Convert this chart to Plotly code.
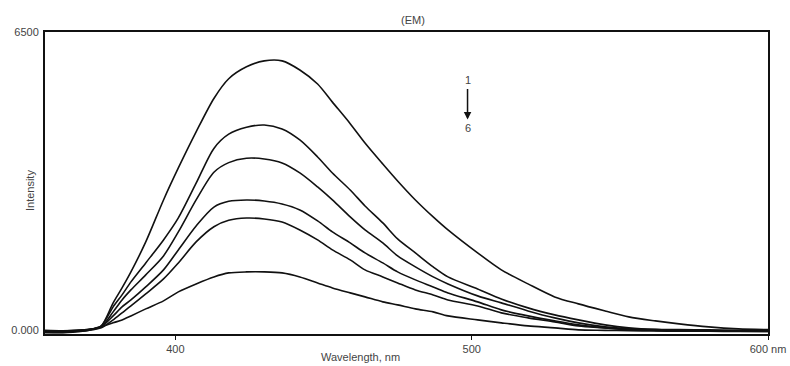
import plotly.graph_objects as go

# Wavelength grid (nm)
wavelength = [356, 362, 368, 372, 375, 379, 382, 385, 390, 396, 401, 407, 413, 418, 424,
              430, 436, 442, 448, 453, 459, 464, 470, 475, 481, 487, 492, 502, 510, 519,
              528, 536, 545, 553, 562, 570, 580, 590, 600]

# Emission intensities for spectra 1..6
curve1 = [-20, -25, -5, 25, 87, 589, 916, 1265, 1919, 2835, 3533, 4320, 5050, 5480, 5740,
          5870, 5870, 5671, 5365, 4970, 4500, 4078, 3620, 3250, 2835, 2465, 2181, 1679, 1309, 1003,
          720, 567, 414, 284, 196, 131, 65, 22, 5]
curve2 = [-40, -45, -20, 15, 87, 502, 763, 1047, 1461, 1963, 2443, 3200, 3960, 4270, 4420,
          4471, 4384, 4144, 3773, 3424, 3053, 2704, 2334, 1985, 1679, 1374, 1156, 894, 676, 480,
          327, 218, 109, 44, 10, 5, 0, -10, -20]
curve3 = [-60, -60, -35, 10, 65, 393, 654, 872, 1200, 1614, 2137, 2835, 3440, 3650, 3745,
          3729, 3642, 3424, 3119, 2835, 2465, 2181, 1897, 1614, 1374, 1156, 1003, 742, 589, 414,
          262, 153, 65, 22, 5, -10, -20, -25, -30]
curve4 = [-30, -35, -15, 18, 65, 305, 502, 654, 938, 1309, 1745, 2268, 2680, 2805, 2835,
          2813, 2748, 2617, 2377, 2137, 1897, 1679, 1461, 1265, 1091, 938, 807, 611, 436, 305,
          196, 109, 44, 5, -10, -15, -20, -25, -30]
curve5 = [-50, -55, -30, 5, 44, 218, 371, 523, 785, 1112, 1461, 1919, 2250, 2390, 2440,
          2421, 2355, 2181, 1963, 1745, 1527, 1309, 1156, 1025, 872, 763, 654, 523, 371, 262,
          174, 87, 44, 5, -10, -20, -25, -30, -35]
curve6 = [-10, -20, -5, 20, 65, 153, 218, 305, 458, 632, 829, 1003, 1156, 1243, 1265,
          1265, 1243, 1156, 1025, 916, 807, 720, 611, 545, 458, 393, 305, 218, 153, 87,
          44, 0, -10, -20, -25, -30, -30, -35, -35]

series = [curve1, curve2, curve3, curve4, curve5, curve6]

x_tickvals = [400, 500, 600]
x_ticktext = ["400", "500", "600 nm"]
y_tickvals = [0, 6500]
y_ticktext = ["0.000", "6500"]

fig = go.Figure()
for s in series:
    fig.add_trace(go.Scatter(x=wavelength, y=s, mode="lines",
                             line=dict(color="#111111", width=1.6, shape="spline", smoothing=0.8),
                             showlegend=False, hoverinfo="skip"))

font = dict(family="Liberation Sans, Arial, sans-serif", size=11, color="#444444")

fig.update_layout(
    width=790, height=366,
    margin=dict(l=45, r=22, t=32, b=32, pad=0),
    paper_bgcolor="white", plot_bgcolor="white",
    font=font,
    xaxis=dict(range=[356, 600], tickvals=x_tickvals, ticktext=x_ticktext,
               showgrid=False, zeroline=False, showline=True, mirror=True,
               linecolor="#111111", linewidth=2, ticks="outside", ticklen=4,
               tickcolor="#111111", tickfont=font, automargin=False),
    yaxis=dict(range=[-90, 6500], tickvals=y_tickvals, ticktext=y_ticktext,
               showgrid=False, zeroline=False, showline=True, mirror=True,
               linecolor="#111111", linewidth=2, ticks="", tickfont=font,
               ticklabelstandoff=2, automargin=False),
    annotations=[
        dict(text="(EM)", x=0.509, y=1.040, xref="paper", yref="paper",
             showarrow=False, font=font, xanchor="center", yanchor="middle"),
        dict(text="Intensity", x=-0.0207, y=0.4735, xref="paper", yref="paper",
             showarrow=False, font=font, textangle=-90, xanchor="center", yanchor="middle"),
        dict(text="Wavelength, nm", x=0.4357, y=-0.076, xref="paper", yref="paper",
             showarrow=False, font=font, xanchor="center", yanchor="middle"),
        dict(text="1", x=498.6, y=5453, xref="x", yref="y", showarrow=False,
             font=font, xanchor="center", yanchor="middle"),
        dict(text="6", x=498.6, y=4404, xref="x", yref="y", showarrow=False,
             font=font, xanchor="center", yanchor="middle"),
        dict(text="", x=498.6, y=4590, ax=498.6, ay=5290, xref="x", yref="y",
             axref="x", ayref="y", showarrow=True, arrowhead=2, arrowsize=1,
             arrowwidth=1.5, arrowcolor="#111111"),
    ],
)

fig.write_html("out.html", config={"displayModeBar": False},
               post_script="document.body.style.margin='0';document.body.style.overflow='hidden';")
